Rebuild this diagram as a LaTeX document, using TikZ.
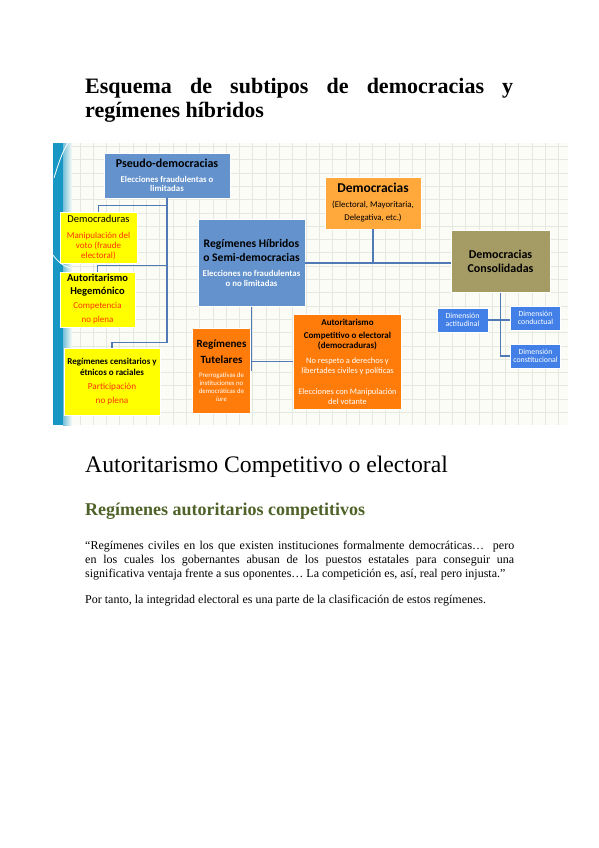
\documentclass[tikz,border=0pt]{standalone}
\usepackage{fontspec}
\setmainfont{Liberation Serif}
\newfontfamily\carlito{Carlito}
\usetikzlibrary{positioning, calc}
\usepackage{xcolor}
\definecolor{pseudoblue}{RGB}{99,146,204}
\definecolor{dimblue}{RGB}{66,128,232}
\definecolor{boxyellow}{RGB}{255,255,0}
\definecolor{democorange}{RGB}{255,168,60}
\definecolor{autorange}{RGB}{255,124,10}
\definecolor{consololive}{RGB}{165,155,100}
\definecolor{linkblue}{RGB}{79,122,182}
\definecolor{redtext}{RGB}{255,50,0}
\definecolor{headgreen}{RGB}{79,98,40}
\definecolor{slidebg}{RGB}{252,252,246}
\definecolor{gridline}{RGB}{228,232,222}
\definecolor{bandteal}{RGB}{24,150,196}
\newcommand{\fsz}[2]{\fontsize{#1}{#2}\selectfont}

\tikzset{
  box/.style={draw=white, line width=0.8pt, inner sep=0pt, align=flush center, font=\carlito},
  link/.style={linkblue, line width=1.3pt},
}

\begin{document}
\begin{tikzpicture}[x=1pt, y=-1pt]
  % ---- Page ----
  \fill[white] (0,0) rectangle (599,848);
  \path[use as bounding box] (0,0) rectangle (599,848);

  % ---- Title ----
  \node[anchor=north west, inner sep=0pt, text width=428pt, align=justify, font={\fsz{22}{24}\bfseries}] (title) at (85,78)
    {Esquema de subtipos de democracias y\linebreak regímenes híbridos};

  % ---- Slide background ----
  \fill[slidebg] (53,143) rectangle (568,425);
  \draw[gridline, line width=0.5pt, step=13.3pt] (53,143) grid (568,425);
  \fill[bandteal] (53,143) rectangle (63,425);
  \shade[left color=bandteal!60, right color=slidebg] (63,143) rectangle (72,425);
  \begin{scope}
    \clip (53,143) rectangle (70,425);
    \draw[white, line width=0.8pt] (54,178) .. controls (58,165) and (62,152) .. (68,143);
    \draw[white, line width=0.8pt] (53,255) .. controls (58,262) and (63,266) .. (70,268);
  \end{scope}

  % ---- Boxes ----
  \node[box, fill=pseudoblue, minimum width=126pt, minimum height=45pt, text width=122pt] (pseudo) at (167,175.5)
    {{\fsz{12}{14}\bfseries Pseudo-democracias\par}\vspace{5pt}{\fsz{8.8}{9.3}\bfseries\color{white}Elecciones fraudulentas o\\limitadas\par}};
  \node[box, fill=boxyellow, minimum width=77pt, minimum height=51pt, text width=75pt] (demcra) at (98.5,237.5)
    {{\fsz{10.5}{12}Democraduras\par}\vspace{6pt}{\fsz{9}{10}\color{redtext}Manipulación del\\voto (fraude\\electoral)\par}};
  \node[box, fill=boxyellow, minimum width=75pt, minimum height=55pt, text width=73pt] (hegem) at (97.5,299.5)
    {{\fsz{10.5}{13}\bfseries Autoritarismo\\Hegemónico\par}{\fsz{9}{14}\color{redtext}Competencia\\no plena\par}};
  \node[box, fill=boxyellow, minimum width=96pt, minimum height=67pt, text width=94pt] (censit) at (112,381.5)
    {{\fsz{9}{10.5}\bfseries Regímenes censitarios y\\étnicos o raciales\par}\vspace{1pt}{\fsz{9.2}{13.5}\color{redtext}Participación\\no plena\par}};
  \node[box, fill=pseudoblue, minimum width=107pt, minimum height=87pt, text width=106pt] (hibrid) at (251.5,263)
    {{\fsz{11.6}{13.5}\bfseries Regímenes Híbridos\\o Semi-democracias\par}\vspace{6pt}{\fsz{8.8}{9.5}\bfseries\color{white}Elecciones no fraudulentas\\o no limitadas\par}};
  \node[box, fill=democorange, minimum width=96pt, minimum height=52pt, text width=94pt] (democ) at (373,203)
    {{\fsz{13.5}{15}\bfseries Democracias\par}\vspace{2pt}{\fsz{8.8}{13}(Electoral, Mayoritaria,\\Delegativa, etc.)\par}};
  \node[box, fill=consololive, minimum width=99pt, minimum height=62pt, text width=97pt, font={\carlito\fsz{12}{13.5}\bfseries}] (consol) at (500.5,261.5)
    {Democracias\\Consolidadas};
  \node[box, fill=autorange, minimum width=58pt, minimum height=85pt, text width=57pt] (tutel) at (221.5,370.5)
    {{\fsz{11}{16}\bfseries Regímenes\\Tutelares\par}\vspace{6.5pt}{\fsz{6.8}{7.8}\color{white}Prerrogativas de\\instituciones no\\democráticas de\\\textit{iure}\par}};
  \node[box, fill=autorange, minimum width=108pt, minimum height=95pt, text width=107pt] (compet) at (347.5,361.5)
    {{\fsz{9}{10}\bfseries Autoritarismo\par}\vspace{4pt}{\fsz{9}{9.5}\bfseries Competitivo o electoral\\(democraduras)\par}\vspace{5pt}{\fsz{8.4}{10}\color{white}No respeto a derechos y\\libertades civiles y políticas\\[11pt]Elecciones con Manipulación\\del votante\par}};
  \node[box, fill=dimblue, minimum width=51pt, minimum height=24pt, text width=50pt, font={\carlito\fsz{7.8}{8.2}}, text=white] (actit) at (462.5,320)
    {Dimensión\\actitudinal};
  \node[box, fill=dimblue, minimum width=50pt, minimum height=24pt, text width=50pt, font={\carlito\fsz{7.8}{8.2}}, text=white] (conduc) at (535.5,318)
    {Dimensión\\conductual};
  \node[box, fill=dimblue, minimum width=50pt, minimum height=24pt, text width=50pt, font={\carlito\fsz{7.8}{8.2}}, text=white] (consti) at (535.5,356)
    {Dimensión\\constitucional};

  % ---- Connectors ----
  \draw[link] (pseudo.south) |- ([yshift=5pt]censit.north) -- (censit.north);
  \draw[link] (demcra.north) -- ++(0,-6) -| (pseudo.south);
  \draw[link] (hegem.north) -- ++(0,-6) -| (pseudo.south);
  \draw[link] (hibrid.east) -- (hibrid.east -| consol.west);
  \draw[link] (democ.south) -- (democ.south |- hibrid.east);
  \draw[link] (hibrid.south) -- (hibrid.south |- tutel.east);
  \draw[link] (tutel.east |- compet.west) -- (compet.west);
  \draw[link] (consol.south) |- (consti.west);
  \draw[link] (actit.east) -- (actit.east -| conduc.west);

  % ---- Text below ----
  \node[anchor=base west, inner sep=0pt, font={\fsz{23.7}{28}}] (head) at (85,472)
    {Autoritarismo Competitivo o electoral};
  \node[anchor=base west, inner sep=0pt, font={\fsz{18}{22}\bfseries}, text=headgreen] (subhead) at (85,515)
    {Regímenes autoritarios competitivos};
  \node[anchor=north west, inner sep=0pt, text width=429pt, align=justify, font={\fsz{12}{14}}] (quote) at (85,540.8)
    {“Regímenes civiles en los que existen instituciones formalmente democráticas…\ \ pero\linebreak en los cuales los gobernantes abusan de los puestos estatales para conseguir una\linebreak significativa ventaja frente a sus oponentes… La competición es, así, real pero injusta.”};
  \node[anchor=base west, inner sep=0pt, font={\fsz{12}{14}}] (note) at (85,603)
    {Por tanto, la integridad electoral es una parte de la clasificación de estos regímenes.};
\end{tikzpicture}
\end{document}
